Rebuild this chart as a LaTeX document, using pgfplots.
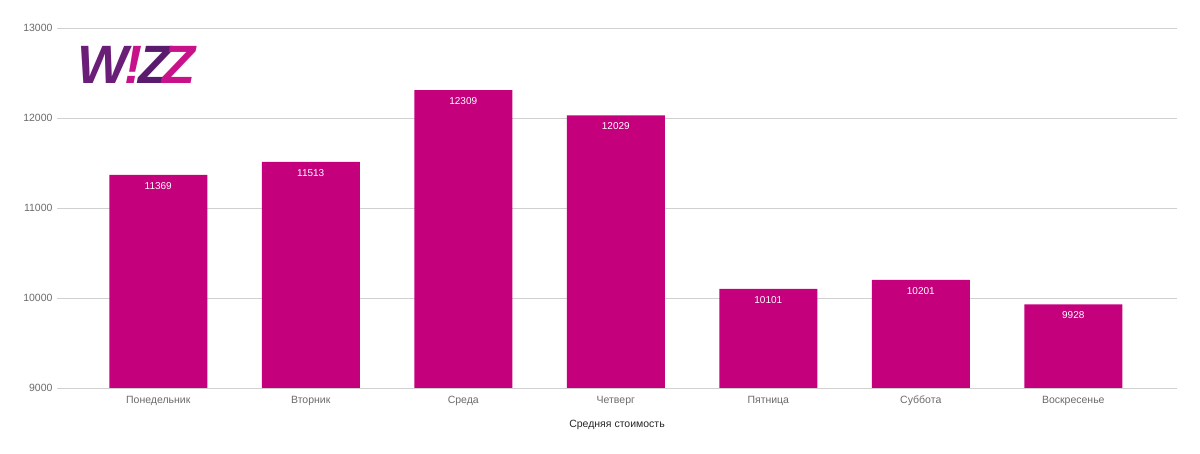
\documentclass[border=0pt]{standalone}
\usepackage{pgfplots}
\pgfplotsset{compat=1.18}
\usepackage{fontspec}
\setmainfont{Liberation Sans}
\definecolor{barc}{HTML}{C4007D}
\definecolor{gridc}{HTML}{D0D0D0}
\definecolor{txt}{HTML}{6A6A6A}
\definecolor{wpurple}{HTML}{6A1E78}
\definecolor{wdark}{HTML}{5A1A6E}
\definecolor{wpink}{HTML}{C8128A}
\begin{document}
\begin{tikzpicture}[x=1bp,y=1bp]
\path[use as bounding box] (0,0) rectangle (1200,454);
\begin{axis}[
  at={(57bp,66bp)}, anchor=south west,
  scale only axis, width=1120bp, height=360bp,
  xmin=-0.664, xmax=6.68,
  ymin=9000, ymax=13000,
  ytick={9000,10000,11000,12000,13000},
  scaled y ticks=false,
  yticklabel={\pgfmathprintnumber[fixed,precision=0,1000 sep={}]{\tick}},
  xtick={0,...,6},
  xticklabels={Понедельник,Вторник,Среда,Четверг,Пятница,Суббота,Воскресенье},
  axis line style={draw=none},
  major tick length=0pt,
  ymajorgrids, grid style={gridc, line width=0.8bp},
  tick label style={font=\fontsize{10.5bp}{12bp}\selectfont, text=txt},
  /pgf/number format/assume math mode=true,
  yticklabel style={xshift=-1bp},
  xticklabel style={anchor=base, yshift=-16bp, text height=8bp, text depth=2bp},
  xlabel={Средняя стоимость},
  xlabel style={font=\fontsize{10.5bp}{12bp}\selectfont, text=black!85, anchor=base, yshift=-18bp},
  clip=false,
]
\addplot[ybar, bar width=98bp, fill=barc, draw=none,
  nodes near coords, point meta=explicit symbolic,
  every node near coord/.append style={anchor=north, yshift=-4bp, text=white, font=\fontsize{10bp}{12bp}\selectfont}]
  coordinates {(0,11369)[11369] (1,11513)[11513] (2,12309)[12309] (3,12029)[12029] (4,10101)[10101] (5,10201)[10201] (6,9928)[9928]};
\end{axis}
\node[anchor=west, inner sep=0pt, font=\fontsize{54bp}{54bp}\selectfont\bfseries\itshape] at (77,389)
  {\textcolor{wpurple}{W}\kern-4bp\textcolor{wpink}{!}\kern-4bp\textcolor{wdark}{Z}\kern-9bp\textcolor{wpink}{Z}};
\end{tikzpicture}
\end{document}
